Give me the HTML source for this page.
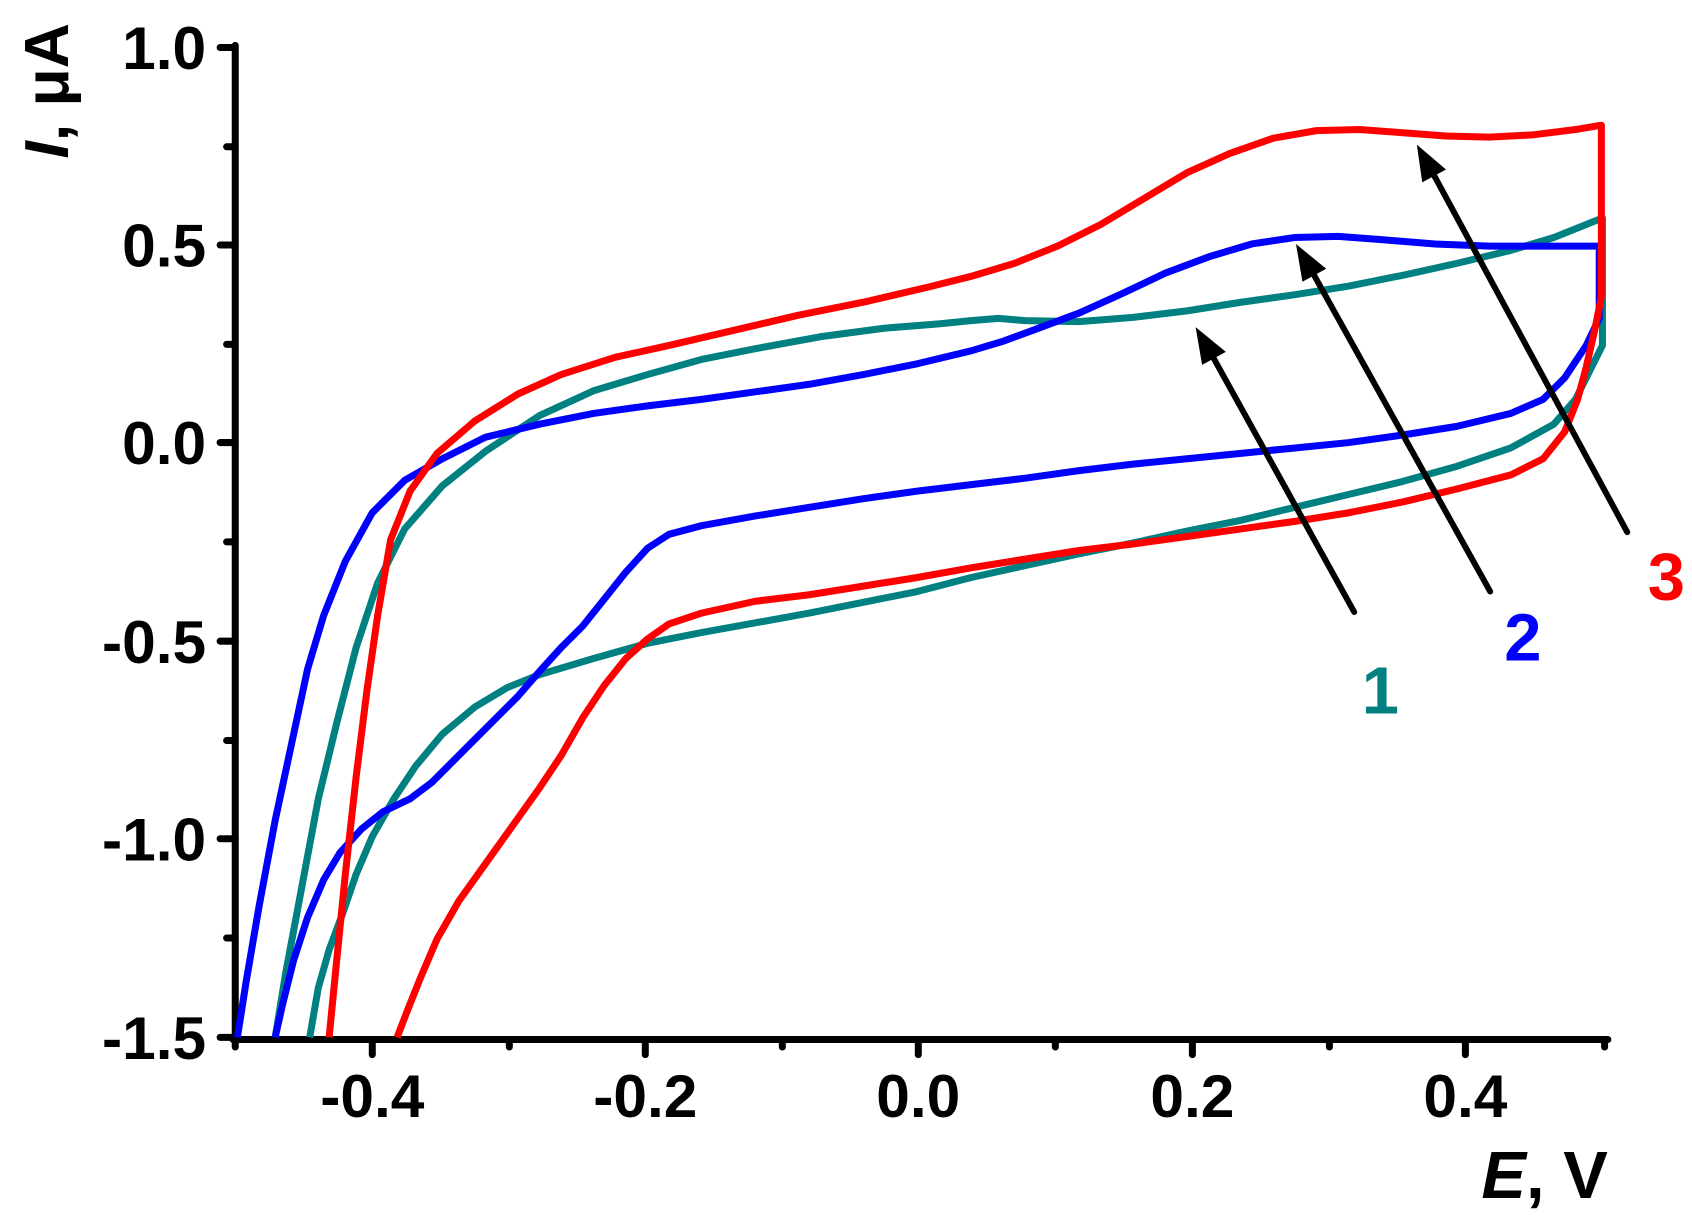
<!DOCTYPE html>
<html><head><meta charset="utf-8"><style>html,body{margin:0;padding:0;background:#fff}svg{display:block}</style></head>
<body>
<svg width="1692" height="1223" viewBox="0 0 1568 1133" preserveAspectRatio="none" xmlns="http://www.w3.org/2000/svg" font-family="Liberation Sans, Arial, sans-serif" font-weight="bold">
<g stroke="#000" stroke-width="6.5" stroke-linecap="round" fill="none">
<line x1="218" y1="42" x2="218" y2="963"/>
<line x1="216" y1="963" x2="1490" y2="963"/>
<line x1="204" y1="44" x2="218" y2="44"/><line x1="204" y1="227" x2="218" y2="227"/><line x1="204" y1="410" x2="218" y2="410"/><line x1="204" y1="594" x2="218" y2="594"/><line x1="204" y1="777" x2="218" y2="777"/><line x1="204" y1="961" x2="218" y2="961"/>
<line x1="210" y1="136" x2="218" y2="136"/><line x1="210" y1="319" x2="218" y2="319"/><line x1="210" y1="502" x2="218" y2="502"/><line x1="210" y1="686" x2="218" y2="686"/><line x1="210" y1="869" x2="218" y2="869"/>
<line x1="345" y1="963" x2="345" y2="977"/><line x1="598" y1="963" x2="598" y2="977"/><line x1="851" y1="963" x2="851" y2="977"/><line x1="1105" y1="963" x2="1105" y2="977"/><line x1="1358" y1="963" x2="1358" y2="977"/>
<line x1="218" y1="963" x2="218" y2="970"/><line x1="472" y1="963" x2="472" y2="970"/><line x1="725" y1="963" x2="725" y2="970"/><line x1="978" y1="963" x2="978" y2="970"/><line x1="1232" y1="963" x2="1232" y2="970"/><line x1="1487" y1="963" x2="1487" y2="970"/>
</g>
<g font-size="56" fill="#000" text-anchor="end">
<text x="191" y="64">1.0</text><text x="191" y="247">0.5</text><text x="191" y="430">0.0</text><text x="191" y="614">-0.5</text><text x="191" y="797">-1.0</text><text x="191" y="981">-1.5</text>
</g>
<g font-size="56" fill="#000" text-anchor="middle">
<text x="345" y="1035">-0.4</text><text x="598" y="1035">-0.2</text><text x="851" y="1035">0.0</text><text x="1105" y="1035">0.2</text><text x="1358" y="1035">0.4</text>
</g>
<text x="1490" y="1110" font-size="62" text-anchor="end"><tspan font-style="italic">E</tspan>, V</text>
<text transform="translate(63,147) rotate(-90)" font-size="58"><tspan font-style="italic">I</tspan>, μA</text>
<g fill="none" stroke-width="6.5" stroke-linejoin="round" stroke-linecap="butt">
<polyline stroke="#008080" points="255,961 265,900 280,820 295,740 312,670 330,600 350,540 375,490 410,450 450,418 500,385 550,362 600,347 650,333 700,323 760,312 820,304 870,300 900,297 925,295 950,297 1000,298 1050,294 1100,288 1150,280 1200,273 1250,265 1300,255 1350,244 1400,232 1440,220 1485,202 1485,320 1475,340 1460,370 1440,393 1400,415 1350,432 1300,446 1250,458 1200,470 1150,482 1100,492 1050,503 1000,513 950,524 900,535 850,548 800,558 750,568 700,577 650,586 600,596 550,610 500,625 470,637 440,655 410,680 385,710 365,740 345,775 330,810 318,845 305,880 295,915 287,961"/>
<polyline stroke="#0000ff" points="220,961 228,910 240,840 255,760 270,690 285,620 300,570 320,520 345,475 375,445 410,425 450,405 500,393 550,383 600,376 650,370 700,363 750,356 800,347 850,337 900,325 930,316 960,305 1000,290 1040,272 1080,253 1120,238 1160,226 1200,220 1240,219 1280,222 1330,226 1380,228 1430,228 1482,228 1482,295 1470,320 1450,350 1430,370 1400,383 1350,395 1300,403 1250,410 1200,415 1150,420 1100,425 1050,430 1000,436 950,443 900,449 850,455 800,462 750,470 700,478 650,487 620,495 600,508 580,530 560,555 540,580 520,600 500,622 480,645 460,665 440,685 420,705 400,725 380,740 355,752 335,768 315,790 300,815 285,850 272,890 262,930 255,961"/>
<polyline stroke="#ff0000" points="305,961 312,890 320,810 330,720 340,640 350,570 362,500 380,455 405,420 440,390 480,365 520,347 570,331 620,320 680,306 740,292 800,280 860,266 900,256 940,244 980,228 1020,208 1060,184 1100,160 1140,142 1180,128 1220,121 1260,120 1300,123 1340,126 1380,127 1420,125 1460,120 1484,116 1484,275 1478,305 1470,340 1462,370 1450,400 1430,425 1400,440 1350,453 1300,465 1250,475 1200,483 1150,490 1100,497 1050,504 1000,510 950,518 900,526 850,535 800,543 750,551 700,557 650,568 620,578 600,592 580,610 560,635 540,665 520,700 500,730 475,765 450,800 425,835 405,870 390,905 378,935 368,961"/>
</g>
<g stroke="#000" stroke-width="5.5" stroke-linecap="round">
<line x1="1255" y1="567" x2="1122" y2="327"/>
<line x1="1381" y1="548" x2="1215" y2="250"/>
<line x1="1508" y1="493" x2="1326" y2="157"/>
</g>
<g fill="#000">
<polygon points="1108,303 1136,326 1114,338"/>
<polygon points="1201,226 1229,249 1207,261"/>
<polygon points="1313,134 1340,157 1318,169"/>
</g>
<g font-size="62">
<text x="1262" y="661" fill="#008080">1</text>
<text x="1394" y="612" fill="#0000ff">2</text>
<text x="1527" y="556" fill="#ff0000">3</text>
</g>
</svg>
</body></html>
